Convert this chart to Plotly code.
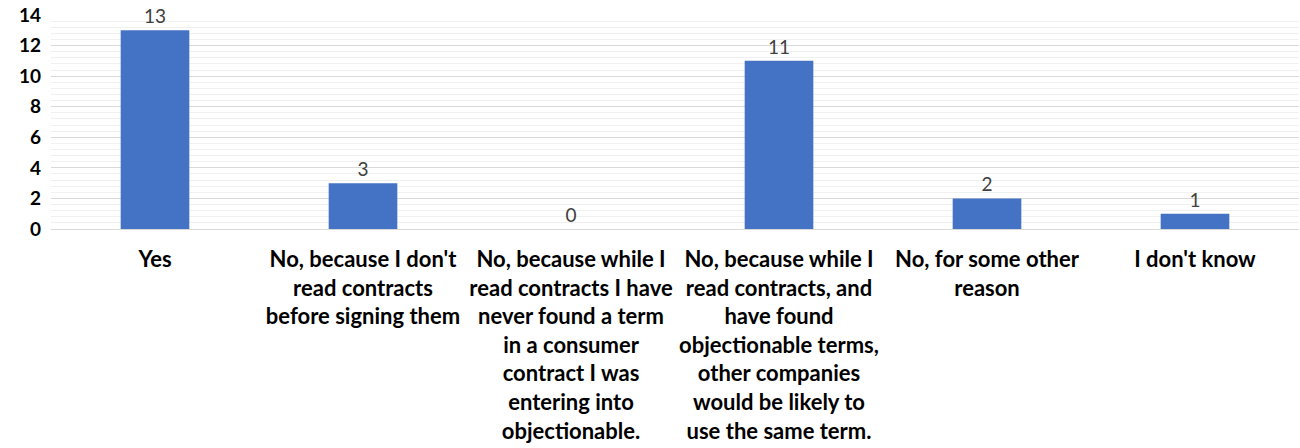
import plotly.graph_objects as go

categories = [
    "Yes",
    "No, because I don't<br>read contracts<br>before signing them",
    "No, because while I<br>read contracts I have<br>never found a term<br>in a consumer<br>contract I was<br>entering into<br>objectionable.",
    "No, because while I<br>read contracts, and<br>have found<br>objectionable terms,<br>other companies<br>would be likely to<br>use the same term.",
    "No, for some other<br>reason",
    "I don't know",
]
counts = [13, 3, 0, 11, 2, 1]
y_ticks = [0, 2, 4, 6, 8, 10, 12, 14]

FONT = "Lato"

fig = go.Figure(
    go.Bar(
        x=categories,
        y=counts,
        marker=dict(color="#4472C4", line=dict(width=0)),
        width=0.33,
        text=[str(v) for v in counts],
        textposition="outside",
        cliponaxis=False,
        textfont=dict(family=FONT, size=19, color="#404040"),
    )
)

fig.update_layout(
    width=1300,
    height=448,
    margin=dict(l=51, r=1, t=15, b=219),
    paper_bgcolor="white",
    plot_bgcolor="white",
    showlegend=False,
    bargap=0.67,
    font=dict(family=FONT, color="#000000"),
)

fig.update_xaxes(
    type="category",
    tickfont=dict(family=FONT, size=22, color="#000000", weight="bold"),
    ticks="",
    ticklabelstandoff=15,
    showgrid=False,
    showline=False,
    tickangle=0,
)

fig.update_yaxes(
    range=[0, 14],
    tickvals=y_ticks,
    ticktext=[str(v) for v in y_ticks],
    tickfont=dict(family=FONT, size=19, color="#000000", weight="bold"),
    ticks="",
    ticklabelstandoff=9,
    showgrid=True,
    gridcolor="#D9D9D9",
    gridwidth=1,
    zeroline=True,
    zerolinecolor="#D9D9D9",
    zerolinewidth=1,
    minor=dict(dtick=0.4, tick0=0, showgrid=True, gridcolor="#F0F0F0", gridwidth=1),
    showline=False,
)

fig.write_html("out.html")
